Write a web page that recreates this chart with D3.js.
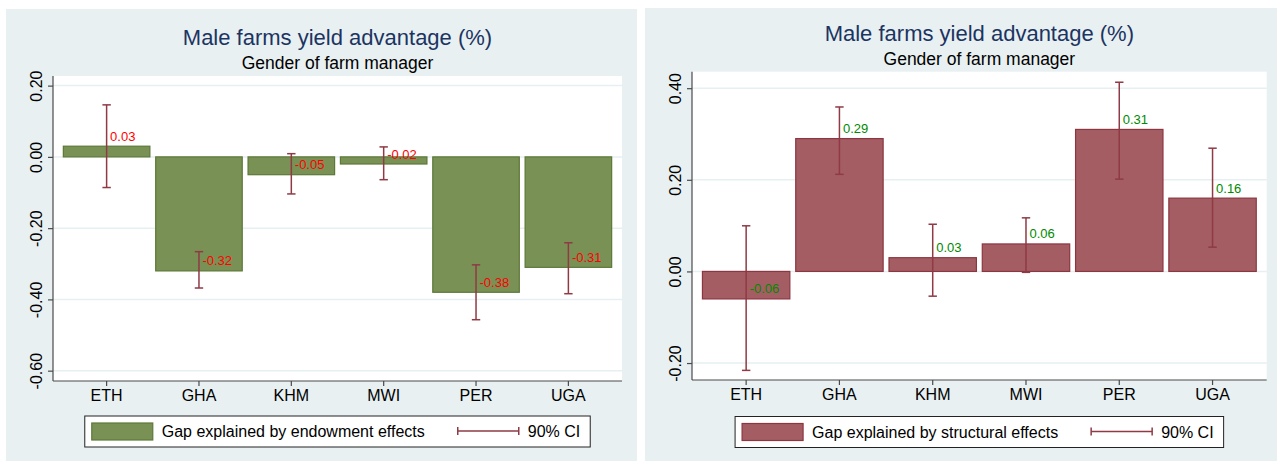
<!DOCTYPE html>
<html>
<head>
<meta charset="utf-8">
<script src="https://cdn.jsdelivr.net/npm/d3@7/dist/d3.min.js"></script>
<style>
  html, body { margin: 0; padding: 0; background: #ffffff; }
  svg { display: block; font-family: "Liberation Sans", Arial, Helvetica, sans-serif; }
</style>
</head>
<body>
<svg id="chart" width="1277" height="461"></svg>
<script>
// Countries on the x axis
const countries = ["ETH", "GHA", "KHM", "MWI", "PER", "UGA"];

// Gap explained by endowment effects, with 90% CI bounds
const endowment   = [0.03, -0.32, -0.05, -0.02, -0.38, -0.31];
const endowmentLo = [-0.086, -0.368, -0.104, -0.064, -0.457, -0.384];
const endowmentHi = [0.146, -0.266, 0.009, 0.028, -0.303, -0.241];

// Gap explained by structural effects, with 90% CI bounds
const structural   = [-0.06, 0.29, 0.03, 0.06, 0.31, 0.16];
const structuralLo = [-0.216, 0.212, -0.054, -0.002, 0.2015, 0.053];
const structuralHi = [0.0996, 0.359, 0.103, 0.117, 0.413, 0.269];

// Y axis tick values
const leftTicks  = [0.2, 0, -0.2, -0.4, -0.6];
const rightTicks = [0.4, 0.2, 0, -0.2];

const titleText    = "Male farms yield advantage (%)";
const subtitleText = "Gender of farm manager";
const ciLabel      = "90% CI";

const svg = d3.select("#chart");
// two decimals, plain hyphen for negatives
const fmt = d3.formatLocale({
  decimal: ".", thousands: ",", grouping: [3], currency: ["", ""], minus: "-"
}).format(".2f");

function drawPanel(cfg) {
  const g = svg.append("g");

  // graph region background
  g.append("rect")
    .attr("x", cfg.panel[0]).attr("y", cfg.panel[1])
    .attr("width", cfg.panel[2]).attr("height", cfg.panel[3])
    .attr("fill", "#e8f0f2");

  const [x0, y0, x1, y1] = cfg.plot;

  // plot region
  g.append("rect")
    .attr("x", x0).attr("y", y0)
    .attr("width", x1 - x0).attr("height", y1 - y0)
    .attr("fill", "#ffffff");

  const x = d3.scaleBand()
    .domain(countries)
    .range([x0, x1])
    .paddingInner(0.063)
    .paddingOuter(0.112);

  const y = d3.scaleLinear().domain(cfg.domain).range([y1, y0]);

  // horizontal grid lines
  g.append("g").selectAll("line")
    .data(cfg.ticks)
    .join("line")
    .attr("x1", x0).attr("x2", x1)
    .attr("y1", d => y(d)).attr("y2", d => y(d))
    .attr("stroke", "#e6eff1")
    .attr("stroke-width", 1.5);

  const rows = countries.map((c, i) => ({
    c, v: cfg.values[i], lo: cfg.lo[i], hi: cfg.hi[i]
  }));

  // bars
  g.append("g").selectAll("rect")
    .data(rows)
    .join("rect")
    .attr("x", d => x(d.c))
    .attr("width", x.bandwidth())
    .attr("y", d => y(Math.max(0, d.v)))
    .attr("height", d => Math.abs(y(d.v) - y(0)))
    .attr("fill", cfg.fill)
    .attr("stroke", cfg.stroke)
    .attr("stroke-width", 1.2);

  // 90% CI whiskers
  const ciColor = "#8f3a45";
  const capHalf = 4.2;
  const ci = g.append("g").attr("stroke", ciColor).attr("stroke-width", 1.5);
  rows.forEach(d => {
    const cx = x(d.c) + x.bandwidth() / 2;
    ci.append("line").attr("x1", cx).attr("x2", cx).attr("y1", y(d.hi)).attr("y2", y(d.lo));
    ci.append("line").attr("x1", cx - capHalf).attr("x2", cx + capHalf).attr("y1", y(d.hi)).attr("y2", y(d.hi));
    ci.append("line").attr("x1", cx - capHalf).attr("x2", cx + capHalf).attr("y1", y(d.lo)).attr("y2", y(d.lo));
  });

  // value labels
  g.append("g").selectAll("text")
    .data(rows)
    .join("text")
    .attr("x", d => x(d.c) + x.bandwidth() / 2 + 3.5)
    .attr("y", d => y(d.v) - 5.5)
    .attr("fill", cfg.labelColor)
    .attr("font-size", 13)
    .text(d => fmt(d.v));

  // y axis
  const yAxis = g.append("g")
    .attr("transform", `translate(${x0},0)`)
    .call(d3.axisLeft(y).tickValues(cfg.ticks).tickSize(5).tickFormat(fmt));
  yAxis.select(".domain").attr("stroke", "#4a4a4a").attr("stroke-width", 1.2)
    .attr("d", `M0,${y0}V${y1}`);
  yAxis.selectAll(".tick line").attr("stroke", "#4a4a4a").attr("stroke-width", 1.2);
  yAxis.selectAll(".tick text")
    .attr("font-size", 16)
    .attr("fill", "#000")
    .attr("text-anchor", "middle")
    .attr("dy", null)
    .attr("x", null)
    .attr("transform", "translate(-11,0) rotate(-90)");

  // x axis
  const xAxis = g.append("g")
    .attr("transform", `translate(0,${y1})`)
    .call(d3.axisBottom(x).tickSize(5).tickSizeOuter(0));
  xAxis.select(".domain").attr("stroke", "#4a4a4a").attr("stroke-width", 1.2)
    .attr("d", `M${x0},0H${x1}`);
  xAxis.selectAll(".tick line").attr("stroke", "#4a4a4a").attr("stroke-width", 1.2);
  xAxis.selectAll(".tick text")
    .attr("font-size", 16)
    .attr("fill", "#000")
    .attr("dy", null)
    .attr("y", cfg.xLabelY);

  // titles
  const cx = (x0 + x1) / 2;
  g.append("text")
    .attr("x", cx).attr("y", cfg.titleY)
    .attr("text-anchor", "middle")
    .attr("font-size", 22)
    .attr("fill", "#1c3461")
    .text(titleText);
  g.append("text")
    .attr("x", cx).attr("y", cfg.titleY + 24)
    .attr("text-anchor", "middle")
    .attr("font-size", 17.5)
    .attr("fill", "#000")
    .text(subtitleText);

  // legend
  const lg = g.append("g");
  const box = lg.append("rect")
    .attr("y", cfg.legendY).attr("height", 31)
    .attr("fill", "#ffffff").attr("stroke", "#222").attr("stroke-width", 1);
  const sw = lg.append("rect")
    .attr("y", cfg.legendY + 7).attr("width", 61).attr("height", 17)
    .attr("fill", cfg.fill).attr("stroke", cfg.stroke).attr("stroke-width", 1.2);
  const t1 = lg.append("text")
    .attr("y", cfg.legendY + 21).attr("font-size", 16).attr("fill", "#000")
    .text(cfg.legendText);
  const ciKey = lg.append("g").attr("stroke", ciColor).attr("stroke-width", 1.5);
  const t2 = lg.append("text")
    .attr("y", cfg.legendY + 21).attr("font-size", 16).attr("fill", "#000")
    .text(ciLabel);

  const w1 = t1.node().getComputedTextLength();
  const w2 = t2.node().getComputedTextLength();
  const pad = 7, keyW = 61, gapT = 9, gapItems = 33, padR = 10;
  const total = pad + keyW + gapT + w1 + gapItems + keyW + gapT + w2 + padR;
  const bx = cx - total / 2;
  box.attr("x", bx).attr("width", total);
  sw.attr("x", bx + pad);
  t1.attr("x", bx + pad + keyW + gapT);
  const kx = bx + pad + keyW + gapT + w1 + gapItems;
  const ky = cfg.legendY + 15;
  ciKey.append("line").attr("x1", kx).attr("x2", kx + keyW).attr("y1", ky).attr("y2", ky);
  ciKey.append("line").attr("x1", kx).attr("x2", kx).attr("y1", ky - 4).attr("y2", ky + 4);
  ciKey.append("line").attr("x1", kx + keyW).attr("x2", kx + keyW).attr("y1", ky - 4).attr("y2", ky + 4);
  t2.attr("x", kx + keyW + gapT);
}

drawPanel({
  panel: [6, 9, 631, 452],
  plot: [53, 76, 622, 381],
  domain: [-0.629, 0.227],
  ticks: leftTicks,
  values: endowment, lo: endowmentLo, hi: endowmentHi,
  fill: "#7a9155", stroke: "#5c7838",
  labelColor: "#ff0000",
  xLabelY: 20,
  titleY: 45,
  legendY: 416,
  legendText: "Gap explained by endowment effects"
});

drawPanel({
  panel: [645, 8, 632, 453],
  plot: [692, 71.7, 1266.7, 380],
  domain: [-0.237, 0.436],
  ticks: rightTicks,
  values: structural, lo: structuralLo, hi: structuralHi,
  fill: "#a45d62", stroke: "#8c3641",
  labelColor: "#008a00",
  xLabelY: 20,
  titleY: 41,
  legendY: 416.5,
  legendText: "Gap explained by structural effects"
});
</script>
</body>
</html>
